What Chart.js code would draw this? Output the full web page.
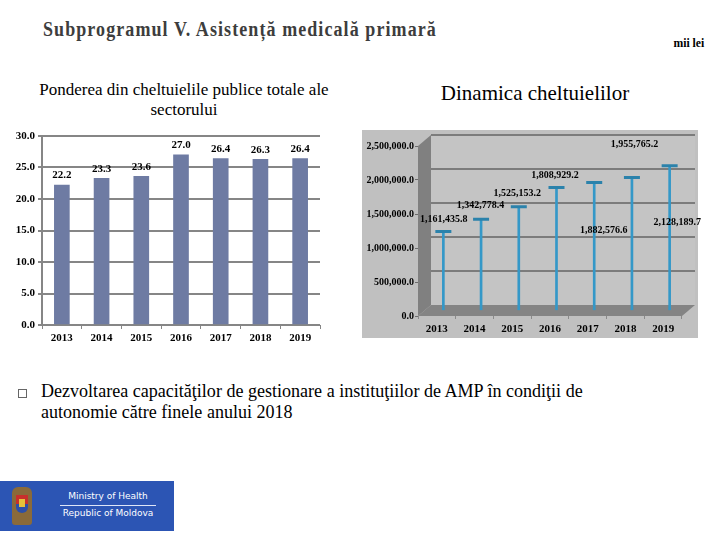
<!DOCTYPE html>
<html>
<head>
<meta charset="utf-8">
<script src="https://cdn.jsdelivr.net/npm/chart.js@4.4.1/dist/chart.umd.min.js"></script>
<style>
  body { margin: 0; width: 720px; height: 540px; position: relative; overflow: hidden; background: #fff; font-family: "Liberation Serif", serif; }
  .abs { position: absolute; }
  #title { left: 43px; top: 18px; font-size: 20px; font-weight: bold; color: #3d3d3d; letter-spacing: 1.2px; white-space: nowrap; transform: scaleX(0.9); transform-origin: left top; }
  #unit { right: 16px; top: 35px; font-size: 13px; font-weight: bold; transform: scaleX(0.9); transform-origin: right top; }
  #leftTitle { left: 14px; top: 80px; width: 340px; text-align: center; font-size: 17px; line-height: 20px; }
  #rightTitle { left: 400px; top: 81px; width: 270px; text-align: center; font-size: 21px; }
  #leftBox { left: 0; top: 125px; width: 340px; height: 225px; }
  #rightBox { left: 362px; top: 130px; width: 358px; height: 208px; }
  #bullet { left: 18px; top: 389px; width: 7px; height: 7px; border: 1px solid #666; }
  #note { left: 41px; top: 380px; font-size: 19px; line-height: 21px; white-space: nowrap; transform: scaleX(0.95); transform-origin: left top; }
  #logo { left: 0; top: 481px; width: 174px; height: 50px; background: #2c55b4; }
  #logo .txt { position: absolute; left: 60px; color: #fff; font-family: "DejaVu Sans", sans-serif; font-size: 9px; width: 96px; text-align: center; }
  #logo .rule { position: absolute; left: 60px; top: 24px; width: 96px; height: 1px; background: #dfe6f7; }
</style>
</head>
<body>
<div id="title" class="abs">Subprogramul V. Asistență medicală primară</div>
<div id="unit" class="abs">mii lei</div>
<div id="leftTitle" class="abs">Ponderea din cheltuielile publice totale ale<br>sectorului</div>
<div id="rightTitle" class="abs">Dinamica cheltuielilor</div>
<div id="leftBox" class="abs"><canvas id="shareChart" width="340" height="225"></canvas></div>
<div id="rightBox" class="abs"><canvas id="spendChart" width="358" height="208"></canvas></div>
<div id="bullet" class="abs"></div>
<div id="note" class="abs">Dezvoltarea capacităţilor de gestionare a instituţiilor de AMP în condiţii de<br>autonomie către finele anului 2018</div>
<div id="logo" class="abs">
  <div class="abs" style="left:12px;top:6px;width:20px;height:38px;background:#8a6a3a;border-radius:6px 6px 3px 3px;"></div>
  <div class="abs" style="left:16px;top:14px;width:12px;height:9px;background:#c8302c;"></div>
  <div class="abs" style="left:16px;top:23px;width:12px;height:9px;background:#2d4fa8;border-radius:0 0 6px 6px;"></div>
  <div class="abs" style="left:19px;top:18px;width:6px;height:8px;background:#e5c23a;"></div>
  <div class="txt" style="top:10px;">Ministry of Health</div>
  <div class="rule"></div>
  <div class="txt" style="top:27px;">Republic of Moldova</div>
</div>
<script>
// values
const years = ['2013', '2014', '2015', '2016', '2017', '2018', '2019'];
const shareValues = [22.2, 23.3, 23.6, 27.0, 26.4, 26.3, 26.4];
const spendValues = [1161435.8, 1342778.4, 1525153.2, 1808929.2, 1882576.6, 1955765.2, 2128189.7];
const shareAxis = [0, 30, 5];        // min, max, step
const spendAxis = [0, 2500000, 500000];

const serif = 'Liberation Serif';
const gridGray = '#868686';

// where each value label of the right chart sits, relative to its bar top
const spendLabelShift = [[7, -18], [6, -19], [5, -19], [5, -18], [16, 42], [9, -39], [14, 51]];
const depth = [13, -11]; // 3D wall depth of the right chart
const panelWidth = 336;  // grey panel behind the right chart

const fmt1 = v => Number(v).toLocaleString('en-US', { minimumFractionDigits: 1, maximumFractionDigits: 1 });

// --- left chart: share of public spending ---
const shareLabels = {
  id: 'shareLabels',
  afterDatasetsDraw(chart) {
    const c = chart.ctx;
    c.save();
    c.font = `bold 11px "${serif}"`;
    c.fillStyle = '#000';
    c.textAlign = 'center';
    c.textBaseline = 'bottom';
    chart.getDatasetMeta(0).data.forEach((bar, i) => {
      c.fillText(shareValues[i].toFixed(1), bar.x, bar.y - 4);
    });
    c.restore();
  }
};

new Chart(document.getElementById('shareChart'), {
  type: 'bar',
  data: {
    labels: years,
    datasets: [{ data: shareValues, backgroundColor: '#6e7ba3', barThickness: 15 }]
  },
  options: {
    responsive: false,
    animation: false,
    layout: { padding: { top: 11, right: 20 } },
    plugins: { legend: { display: false }, tooltip: { enabled: false } },
    scales: {
      x: {
        grid: { offset: true, drawOnChartArea: false, tickLength: 4, color: gridGray, lineWidth: 1 },
        border: { display: false },
        ticks: { color: '#000', font: { family: serif, size: 11, weight: 'bold' }, padding: 3 },
        afterFit: s => { s.height = 25; }
      },
      y: {
        min: shareAxis[0], max: shareAxis[1],
        ticks: { stepSize: shareAxis[2], callback: v => v.toFixed(1), color: '#000', font: { family: serif, size: 11, weight: 'bold' }, padding: 3 },
        grid: { color: gridGray, lineWidth: 2, tickLength: 4 },
        border: { color: gridGray, width: 2 },
        afterFit: s => { s.width = 42; }
      }
    }
  },
  plugins: [shareLabels]
});

// --- right chart: spending dynamics, pseudo 3D ---
const walls = {
  id: 'walls',
  beforeDraw(chart) {
    const c = chart.ctx;
    c.save();
    c.fillStyle = '#c0c0c0';
    c.fillRect(0, 0, panelWidth, chart.height);
    c.restore();
  },
  beforeDatasetsDraw(chart) {
    const { ctx: c, chartArea: a } = chart;
    const y = chart.scales.y;
    const [dx, dy] = depth;
    c.save();
    // back wall
    c.fillStyle = '#c4c4c4';
    c.fillRect(a.left + dx, a.top + dy, a.right - a.left, a.bottom - a.top);
    // side wall
    c.fillStyle = '#808080';
    c.beginPath();
    c.moveTo(a.left, a.top); c.lineTo(a.left + dx, a.top + dy);
    c.lineTo(a.left + dx, a.bottom + dy); c.lineTo(a.left, a.bottom);
    c.closePath(); c.fill();
    // back grid lines
    c.strokeStyle = '#7c7c7c';
    c.lineWidth = 2;
    for (let v = spendAxis[0] + spendAxis[2]; v <= spendAxis[1]; v += spendAxis[2]) {
      const py = y.getPixelForValue(v) + dy;
      c.beginPath(); c.moveTo(a.left + dx, py); c.lineTo(a.right + dx, py); c.stroke();
    }
    // floor
    c.fillStyle = '#848484';
    c.beginPath();
    c.moveTo(a.left, a.bottom); c.lineTo(a.left + dx, a.bottom + dy);
    c.lineTo(a.right + dx, a.bottom + dy); c.lineTo(a.right, a.bottom);
    c.closePath(); c.fill();
    // bars and caps sit half way into the depth
    c.translate(dx / 2, dy / 2);
  },
  afterDatasetsDraw(chart) {
    chart.ctx.restore();
    const c = chart.ctx;
    const x = chart.scales.x, y = chart.scales.y;
    c.save();
    c.font = `bold 10px "${serif}"`;
    c.fillStyle = '#000';
    c.textAlign = 'center';
    c.textBaseline = 'middle';
    spendValues.forEach((v, i) => {
      const [sx, sy] = spendLabelShift[i];
      c.fillText(fmt1(v), x.getPixelForValue(i) + sx, y.getPixelForValue(v) + sy);
    });
    c.restore();
  }
};

new Chart(document.getElementById('spendChart'), {
  type: 'bar',
  data: {
    labels: years,
    datasets: [
      { type: 'line', data: spendValues, showLine: false, order: 0,
        pointStyle: 'line', pointRadius: 8, pointBorderWidth: 3, pointBorderColor: '#2b82ab', pointBackgroundColor: '#2b82ab' },
      { type: 'bar', data: spendValues, backgroundColor: '#3498c8', barThickness: 2, order: 1 }
    ]
  },
  options: {
    responsive: false,
    animation: false,
    layout: { padding: { top: 16, right: 38 } },
    plugins: { legend: { display: false }, tooltip: { enabled: false } },
    scales: {
      x: {
        grid: { offset: true, drawOnChartArea: false, tickLength: 3, color: '#8a8a8a' },
        border: { display: false },
        ticks: { color: '#000', font: { family: serif, size: 11, weight: 'bold' }, padding: 4 },
        afterFit: s => { s.height = 22; }
      },
      y: {
        min: spendAxis[0], max: spendAxis[1],
        ticks: { stepSize: spendAxis[2], callback: v => fmt1(v), color: '#000', font: { family: serif, size: 10, weight: 'bold' }, padding: 1 },
        grid: { drawOnChartArea: false, tickLength: 3, color: '#6c6c6c' },
        border: { display: false },
        afterFit: s => { s.width = 56; }
      }
    }
  },
  plugins: [walls]
});
</script>
</body>
</html>
